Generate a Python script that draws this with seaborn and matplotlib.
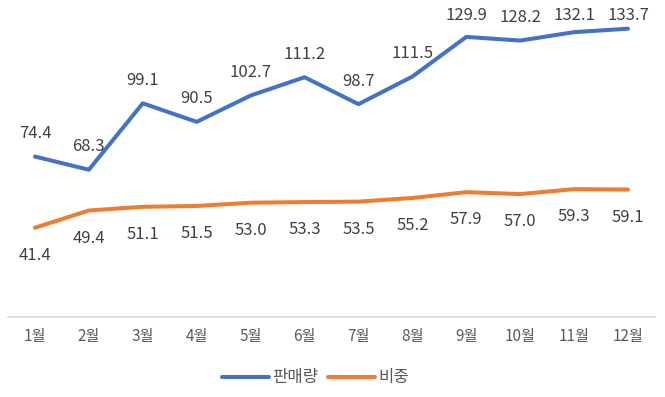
import pandas as pd
import seaborn as sns
import matplotlib.pyplot as plt

months = ['1월', '2월', '3월', '4월', '5월', '6월', '7월', '8월', '9월', '10월', '11월', '12월']
sales = [74.4, 68.3, 99.1, 90.5, 102.7, 111.2, 98.7, 111.5, 129.9, 128.2, 132.1, 133.7]
share = [41.4, 49.4, 51.1, 51.5, 53.0, 53.3, 53.5, 55.2, 57.9, 57.0, 59.3, 59.1]

df = pd.DataFrame({'month': months * 2,
                   'value': sales + share,
                   'series': ['판매량'] * 12 + ['비중'] * 12})

sns.set_style('white')
plt.rcParams['font.family'] = ['Noto Sans CJK KR', 'DejaVu Sans']

fig = plt.figure(figsize=(6.65, 3.97), dpi=100)
ax = fig.add_axes([0.012, 0.2015, 0.973, 0.755])

palette = {'판매량': '#4472C4', '비중': '#ED7D31'}
sns.lineplot(data=df, x='month', y='value', hue='series', palette=palette,
             linewidth=2.9, sort=False, ax=ax)

# data labels: sales above (kept inside the chart at the top), share below
for i, v in enumerate(sales):
    ax.text(i, min(v + 10.6, 139.6), f'{v:.1f}', ha='center', va='center',
            fontsize=12, color='#404040', clip_on=False)
for i, v in enumerate(share):
    ax.annotate(f'{v:.1f}', (i, v), xytext=(0, -20), textcoords='offset points',
                ha='center', va='center', fontsize=12, color='#404040')

ax.set_xlim(-0.5, 11.5)
ax.set_ylim(0, 139)
ax.set_xlabel('')
ax.set_ylabel('')
ax.set_yticks([])
for s in ['top', 'right', 'left']:
    ax.spines[s].set_visible(False)
ax.spines['bottom'].set_color('#D9D9D9')
ax.spines['bottom'].set_linewidth(1.2)
ax.tick_params(axis='x', length=0, pad=8, labelsize=11, labelcolor='#595959')

ax.legend(loc='upper center', bbox_to_anchor=(0.475, -0.125), ncol=2, frameon=False,
          fontsize=12, handlelength=2.8, columnspacing=0.6, handletextpad=0.2,
          labelcolor='#595959')

fig.savefig('out.png', dpi=100)
